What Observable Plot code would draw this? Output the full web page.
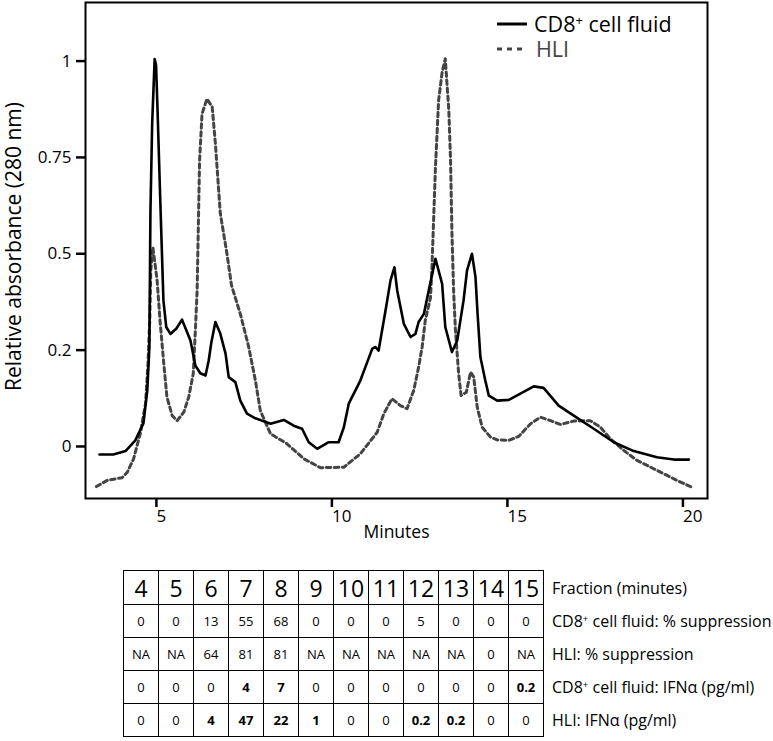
<!DOCTYPE html>
<html>
<head>
<meta charset="utf-8">
<script src="https://cdn.jsdelivr.net/npm/d3@7"></script>
<script src="https://cdn.jsdelivr.net/npm/@observablehq/plot@0.6"></script>
<style>
  body { margin: 0; background: #fff; font-family: "Open Sans", "Noto Sans", sans-serif; color: #000; }
  #wrap { position: relative; width: 773px; }
  #chart svg { display: block; }
  #legend { position: absolute; left: 497px; top: 11px; font-size: 21.5px; }
  #legend .row { display: flex; align-items: center; height: 25px; }
  #legend .row span { display: inline-block; line-height: 22px; height: 22px; }
  #legend svg { margin-right: 7px; }
  sup { font-size: 0.6em; vertical-align: 0.55em; line-height: 0; }
  table { margin-left: 123px; margin-top: 20px; border-collapse: collapse; }
  td.c { border: 1.5px solid #000; width: 34px; min-width: 34px; text-align: center; padding: 0; font-size: 13px; height: 32px; }
  tr.head td.c { font-size: 23px; height: 33px; }
  td.lab { padding-left: 8px; font-size: 16px; white-space: nowrap; border: none; }
  td.b { font-weight: bold; }
</style>
</head>
<body>
<div id="wrap">
  <div id="chart"></div>
  <div id="legend"></div>
  <table id="tbl"><tbody id="tb"></tbody></table>
</div>
<script>
// ---- Chromatogram data (time in minutes, relative absorbance in axis position units) ----
const cd8Time = [3.38,3.77,4.12,4.40,4.63,4.74,4.80,4.83,4.88,4.95,4.99,5.03,5.11,5.20,5.28,5.40,5.57,5.73,5.97,6.11,6.25,6.40,6.49,6.56,6.68,6.82,6.97,7.06,7.25,7.39,7.58,7.82,8.25,8.63,8.91,9.15,9.34,9.58,9.91,10.19,10.34,10.48,10.81,11.15,11.24,11.33,11.52,11.67,11.78,11.86,12.05,12.24,12.38,12.47,12.62,12.76,12.95,13.14,13.23,13.42,13.57,13.75,13.85,13.99,14.09,14.15,14.23,14.37,14.47,14.71,15.04,15.37,15.75,16.03,16.46,16.89,17.46,18.03,18.60,19.26,19.74,20.17];
const cd8Abs  = [-0.021,-0.021,-0.012,0.016,0.060,0.145,0.257,0.61,0.84,1.005,0.99,0.88,0.64,0.379,0.31,0.292,0.306,0.329,0.275,0.21,0.19,0.184,0.223,0.267,0.323,0.293,0.241,0.18,0.167,0.119,0.085,0.073,0.059,0.069,0.054,0.046,0.011,-0.006,0.011,0.011,0.050,0.111,0.171,0.254,0.258,0.249,0.349,0.431,0.465,0.405,0.318,0.284,0.292,0.323,0.344,0.405,0.487,0.422,0.31,0.245,0.275,0.379,0.457,0.50,0.44,0.344,0.232,0.171,0.132,0.119,0.121,0.137,0.156,0.152,0.106,0.080,0.046,0.011,-0.012,-0.028,-0.034,-0.034];
const hliTime = [3.29,3.60,4.02,4.17,4.35,4.54,4.69,4.76,4.81,4.84,4.90,5.02,5.11,5.21,5.30,5.45,5.59,5.78,5.92,6.05,6.11,6.16,6.23,6.30,6.44,6.59,6.68,6.82,7.01,7.14,7.39,7.63,7.82,7.96,8.25,8.72,9.20,9.67,10.34,10.81,11.29,11.48,11.71,11.95,12.14,12.33,12.47,12.57,12.66,12.81,12.85,12.95,13.04,13.14,13.23,13.33,13.38,13.42,13.47,13.52,13.61,13.68,13.83,13.95,14.04,14.14,14.28,14.52,14.71,15.04,15.32,15.66,15.94,16.23,16.51,16.89,17.36,17.65,17.93,18.31,18.69,19.26,19.83,20.26];
const hliAbs  = [-0.104,-0.088,-0.081,-0.067,-0.032,0.033,0.111,0.215,0.327,0.457,0.517,0.431,0.319,0.215,0.128,0.080,0.067,0.089,0.128,0.189,0.301,0.405,0.742,0.863,0.902,0.881,0.786,0.605,0.50,0.418,0.344,0.258,0.171,0.093,0.033,0.007,-0.032,-0.055,-0.054,-0.019,0.037,0.085,0.124,0.106,0.098,0.145,0.206,0.258,0.327,0.387,0.465,0.725,0.898,0.971,1.006,0.872,0.742,0.552,0.397,0.301,0.189,0.132,0.141,0.193,0.18,0.102,0.050,0.024,0.017,0.016,0.026,0.059,0.076,0.067,0.057,0.066,0.067,0.050,0.020,-0.010,-0.036,-0.062,-0.088,-0.106];

// ---- Axis ticks ----
const xTicks = [5, 10, 15, 20];
const yTickPos = [0, 0.25, 0.5, 0.75, 1];
const yTickLabels = ["0", "0.2", "0.5", "0.75", "1"];

// ---- Legend ----
const seriesNames = ["CD8<sup>+</sup> cell fluid", "HLI"];

// ---- Table ----
const fractions = ["4","5","6","7","8","9","10","11","12","13","14","15"];
const cd8Supp = ["0","0","13","55","68","0","0","0","5","0","0","0"];
const hliSupp = ["NA","NA","64","81","81","NA","NA","NA","NA","NA","0","NA"];
const cd8Ifn  = ["0","0","0","4","7","0","0","0","0","0","0","0.2"];
const hliIfn  = ["0","0","4","47","22","1","0","0","0.2","0.2","0","0"];
const rowLabels = ["Fraction (minutes)", "CD8<sup>+</sup> cell fluid: % suppression", "HLI: % suppression", "CD8<sup>+</sup> cell fluid: IFN\u03B1 (pg/ml)", "HLI: IFN\u03B1 (pg/ml)"];

const cd8 = cd8Time.map((t, i) => ({t, v: cd8Abs[i]}));
const hli = hliTime.map((t, i) => ({t, v: hliAbs[i]}));

const chart = Plot.plot({
  width: 773,
  height: 550,
  marginLeft: 85,
  marginRight: 66,
  marginTop: 2,
  marginBottom: 52,
  style: {fontFamily: "'Open Sans', 'Noto Sans', sans-serif", fontSize: "17px", color: "#000", background: "#fff"},
  x: {domain: [2.98, 20.7]},
  y: {domain: [-0.135, 1.152]},
  marks: [
    Plot.axisX({ticks: xTicks, tickSize: 9, strokeWidth: 2.5, textAnchor: "start", dx: 0, tickPadding: 2, label: null, fontSize: 17}),
    Plot.axisY({ticks: yTickPos, tickFormat: (d) => yTickLabels[yTickPos.indexOf(d)], tickSize: 9, strokeWidth: 2.5, tickPadding: 5, label: null, fontSize: 17}),
    Plot.text(["Minutes"], {frameAnchor: "bottom", dy: 39, fontSize: 17.5}),
    Plot.text(["Relative absorbance (280 nm)"], {frameAnchor: "left", textAnchor: "middle", rotate: -90, dx: -71, dy: -4, fontSize: 21}),
    Plot.line(hli, {x: "t", y: "v", stroke: "#444", strokeWidth: 3, strokeDasharray: "4.5,3.5"}),
    Plot.line(cd8, {x: "t", y: "v", stroke: "#000", strokeWidth: 2.6}),
    Plot.frame({stroke: "#000", strokeWidth: 2})
  ]
});
document.getElementById("chart").appendChild(chart);

// Legend
const legend = document.getElementById("legend");
legend.innerHTML =
  `<div class="row"><svg width="30" height="6"><line x1="0" x2="30" y1="3" y2="3" stroke="#000" stroke-width="3"/></svg><span>${seriesNames[0]}</span></div>` +
  `<div class="row" style="color:#444"><svg width="30" height="6"><line x1="0" x2="30" y1="3" y2="3" stroke="#444" stroke-width="3" stroke-dasharray="5,5"/></svg><span style="margin-left:2px">${seriesNames[1]}</span></div>`;

// Table
const rows = [fractions, cd8Supp, hliSupp, cd8Ifn, hliIfn];
const tb = document.getElementById("tb");
rows.forEach((r, ri) => {
  const tr = document.createElement("tr");
  if (ri === 0) tr.className = "head";
  r.forEach(v => {
    const td = document.createElement("td");
    td.className = "c" + (ri >= 3 && v !== "0" ? " b" : "");
    td.textContent = v;
    tr.appendChild(td);
  });
  const lab = document.createElement("td");
  lab.className = "lab";
  lab.innerHTML = rowLabels[ri];
  tr.appendChild(lab);
  tb.appendChild(tr);
});
</script>
</body>
</html>
